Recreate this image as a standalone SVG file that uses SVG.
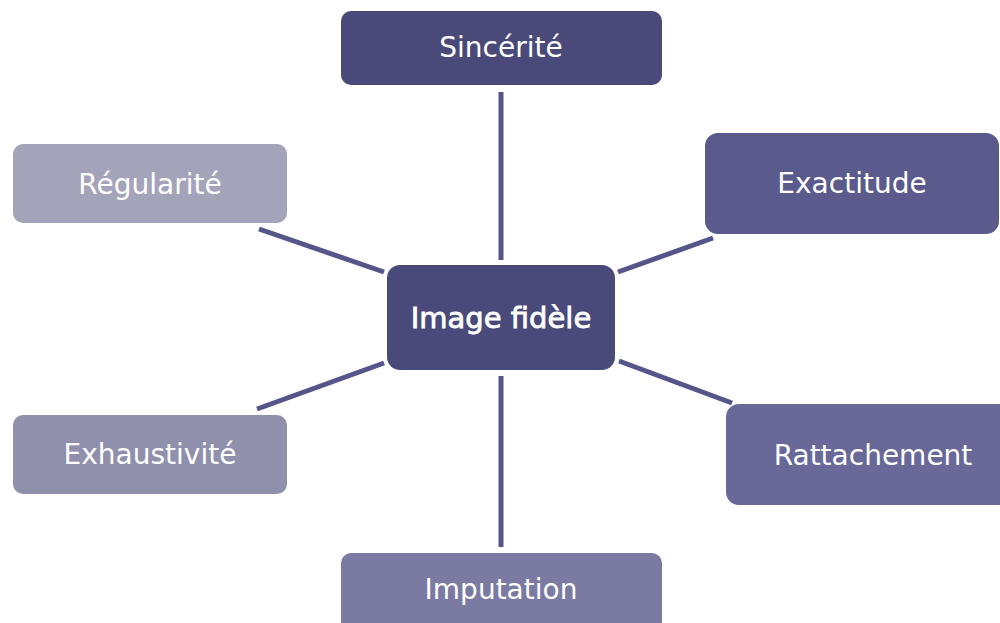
<svg xmlns="http://www.w3.org/2000/svg" width="1000" height="623" viewBox="0 0 1000 623">
<style>
.lbl{font-family:"DejaVu Sans",sans-serif;font-size:28px;fill:#ffffff;text-anchor:middle}
.ctr{font-size:29px;stroke:#ffffff;stroke-width:0.8}
.conn line{stroke:#55558a;stroke-width:5;stroke-linecap:butt}
</style>
<rect width="1000" height="623" fill="#ffffff"/>
<g id="connectors" class="conn">
<line x1="501" y1="92" x2="501" y2="260"/>
<line x1="501" y1="376" x2="501" y2="547"/>
<line x1="259" y1="229" x2="384" y2="272"/>
<line x1="713" y1="238" x2="618" y2="272"/>
<line x1="619" y1="361" x2="732" y2="403"/>
<line x1="384" y1="363" x2="257" y2="409"/>
</g>
<g id="sincerite">
<rect x="341" y="11" width="321" height="74" rx="10" fill="#4a4a7a"/>
<text class="lbl" x="501" y="57">Sincérité</text>
</g>
<g id="regularite">
<rect x="13" y="144" width="274" height="79" rx="10" fill="#a3a3b9"/>
<text class="lbl" x="150" y="194">Régularité</text>
</g>
<g id="exactitude">
<rect x="705" y="133" width="294" height="101" rx="13" fill="#5a5a8c"/>
<text class="lbl" x="852" y="193">Exactitude</text>
</g>
<g id="image-fidele">
<rect x="387" y="265" width="228" height="105" rx="13" fill="#4a4a7a"/>
<text class="lbl ctr" x="501" y="328">Image fidèle</text>
</g>
<g id="rattachement">
<rect x="726" y="404" width="294" height="101" rx="13" fill="#686899"/>
<text class="lbl" x="873" y="465">Rattachement</text>
</g>
<g id="exhaustivite">
<rect x="13" y="415" width="274" height="79" rx="10" fill="#9090ad"/>
<text class="lbl" x="150" y="464">Exhaustivité</text>
</g>
<g id="imputation">
<rect x="341" y="553" width="321" height="80" rx="10" fill="#7a7aa3"/>
<text class="lbl" x="501" y="599">Imputation</text>
</g>
</svg>
